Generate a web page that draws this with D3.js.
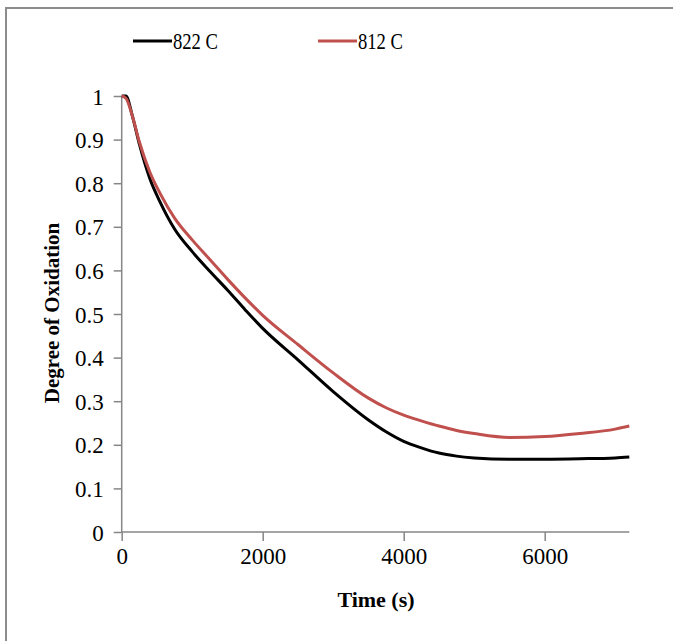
<!DOCTYPE html>
<html>
<head>
<meta charset="utf-8">
<script src="https://cdn.jsdelivr.net/npm/d3@7"></script>
<style>
  body { margin: 0; background: #fff; }
  svg text { font-family: "Liberation Serif", "Times New Roman", serif; fill: #000; }
</style>
</head>
<body>
<div id="chart"></div>
<script>
var w = 673;
var h = 641;

// time (s)
var times = [0, 60, 150, 250, 400, 550, 750, 1000, 1250, 1500, 1750, 2000, 2500, 3000, 3500, 3750, 4000, 4250, 4500, 4750, 5000, 5500, 6000, 6500, 7000, 7200];
// degree of oxidation
var black822 = [1.0, 1.0, 0.955, 0.89, 0.81, 0.755, 0.695, 0.643, 0.598, 0.555, 0.51, 0.467, 0.395, 0.322, 0.257, 0.23, 0.208, 0.193, 0.181, 0.174, 0.17, 0.167, 0.167, 0.168, 0.17, 0.172];
var red812 = [1.0, 0.995, 0.955, 0.895, 0.825, 0.775, 0.72, 0.67, 0.625, 0.58, 0.537, 0.497, 0.43, 0.365, 0.307, 0.285, 0.268, 0.255, 0.243, 0.233, 0.226, 0.217, 0.219, 0.226, 0.236, 0.243];
var seriesNames = ["822 C", "812 C"];
var seriesColors = ["#000000", "#c0504d"];
var xTicks = [0, 2000, 4000, 6000];
var yTicks = [0, 0.1, 0.2, 0.3, 0.4, 0.5, 0.6, 0.7, 0.8, 0.9, 1];

var svg = d3.select("#chart").append("svg")
  .attr("width", w)
  .attr("height", h);

// outer frame (only top and left visible in the picture)
svg.append("rect")
  .attr("x", 6).attr("y", 8)
  .attr("width", 700).attr("height", 700)
  .attr("fill", "none")
  .attr("stroke", "#8c8c8c")
  .attr("stroke-width", 2);

var x = d3.scaleLinear().domain([0, 7200]).range([121.7, 629.3]);
var y = d3.scaleLinear().domain([0, 1]).range([532, 96]);

var yAxis = svg.append("g")
  .attr("transform", "translate(" + x(0) + ",0)")
  .call(d3.axisLeft(y).tickValues(yTicks).tickSize(8).tickPadding(10)
    .tickFormat(function(d) { return d === 0 || d === 1 ? d : d3.format(".1f")(d); }));

var xAxis = svg.append("g")
  .attr("transform", "translate(0," + y(0) + ")")
  .call(d3.axisBottom(x).tickValues(xTicks).tickSize(9).tickPadding(7).tickFormat(d3.format("d")));

[xAxis, yAxis].forEach(function(a) {
  a.select(".domain").attr("stroke", "#868686").attr("stroke-width", 1.5);
  a.selectAll(".tick line").attr("stroke", "#868686").attr("stroke-width", 1.5);
  a.selectAll(".tick text").attr("font-size", 23).attr("fill", "#000")
    .attr("font-family", "Liberation Serif, serif");
});
yAxis.selectAll(".tick text").attr("dy", "0.35em");
yAxis.select(".domain").attr("d", "M0," + y(1) + "V" + y(0));
xAxis.select(".domain").attr("d", "M" + x(0) + ",0H" + x(7200));

var line = d3.line()
  .x(function(d) { return x(d[0]); })
  .y(function(d) { return y(d[1]); })
  .curve(d3.curveMonotoneX);

[black822, red812].forEach(function(vals, i) {
  var pts = times.map(function(t, j) { return [t, vals[j]]; });
  svg.append("path")
    .datum(pts)
    .attr("d", line)
    .attr("fill", "none")
    .attr("stroke", seriesColors[i])
    .attr("stroke-width", 3);
});

// legend
var legendX = [133, 318];
seriesNames.forEach(function(name, i) {
  svg.append("line")
    .attr("x1", legendX[i]).attr("x2", legendX[i] + 39)
    .attr("y1", 41).attr("y2", 41)
    .attr("stroke", seriesColors[i])
    .attr("stroke-width", 3);
  svg.append("text")
    .attr("x", legendX[i] + 40).attr("y", 49)
    .attr("font-size", 24)
    .attr("textLength", 45)
    .attr("lengthAdjust", "spacingAndGlyphs")
    .text(name);
});

// axis titles
svg.append("text")
  .attr("x", 376).attr("y", 607)
  .attr("text-anchor", "middle")
  .attr("font-size", 22)
  .attr("font-weight", "bold")
  .text("Time (s)");

svg.append("text")
  .attr("transform", "translate(59,313) rotate(-90)")
  .attr("text-anchor", "middle")
  .attr("font-size", 21)
  .attr("font-weight", "bold")
  .text("Degree of Oxidation");
</script>
</body>
</html>
